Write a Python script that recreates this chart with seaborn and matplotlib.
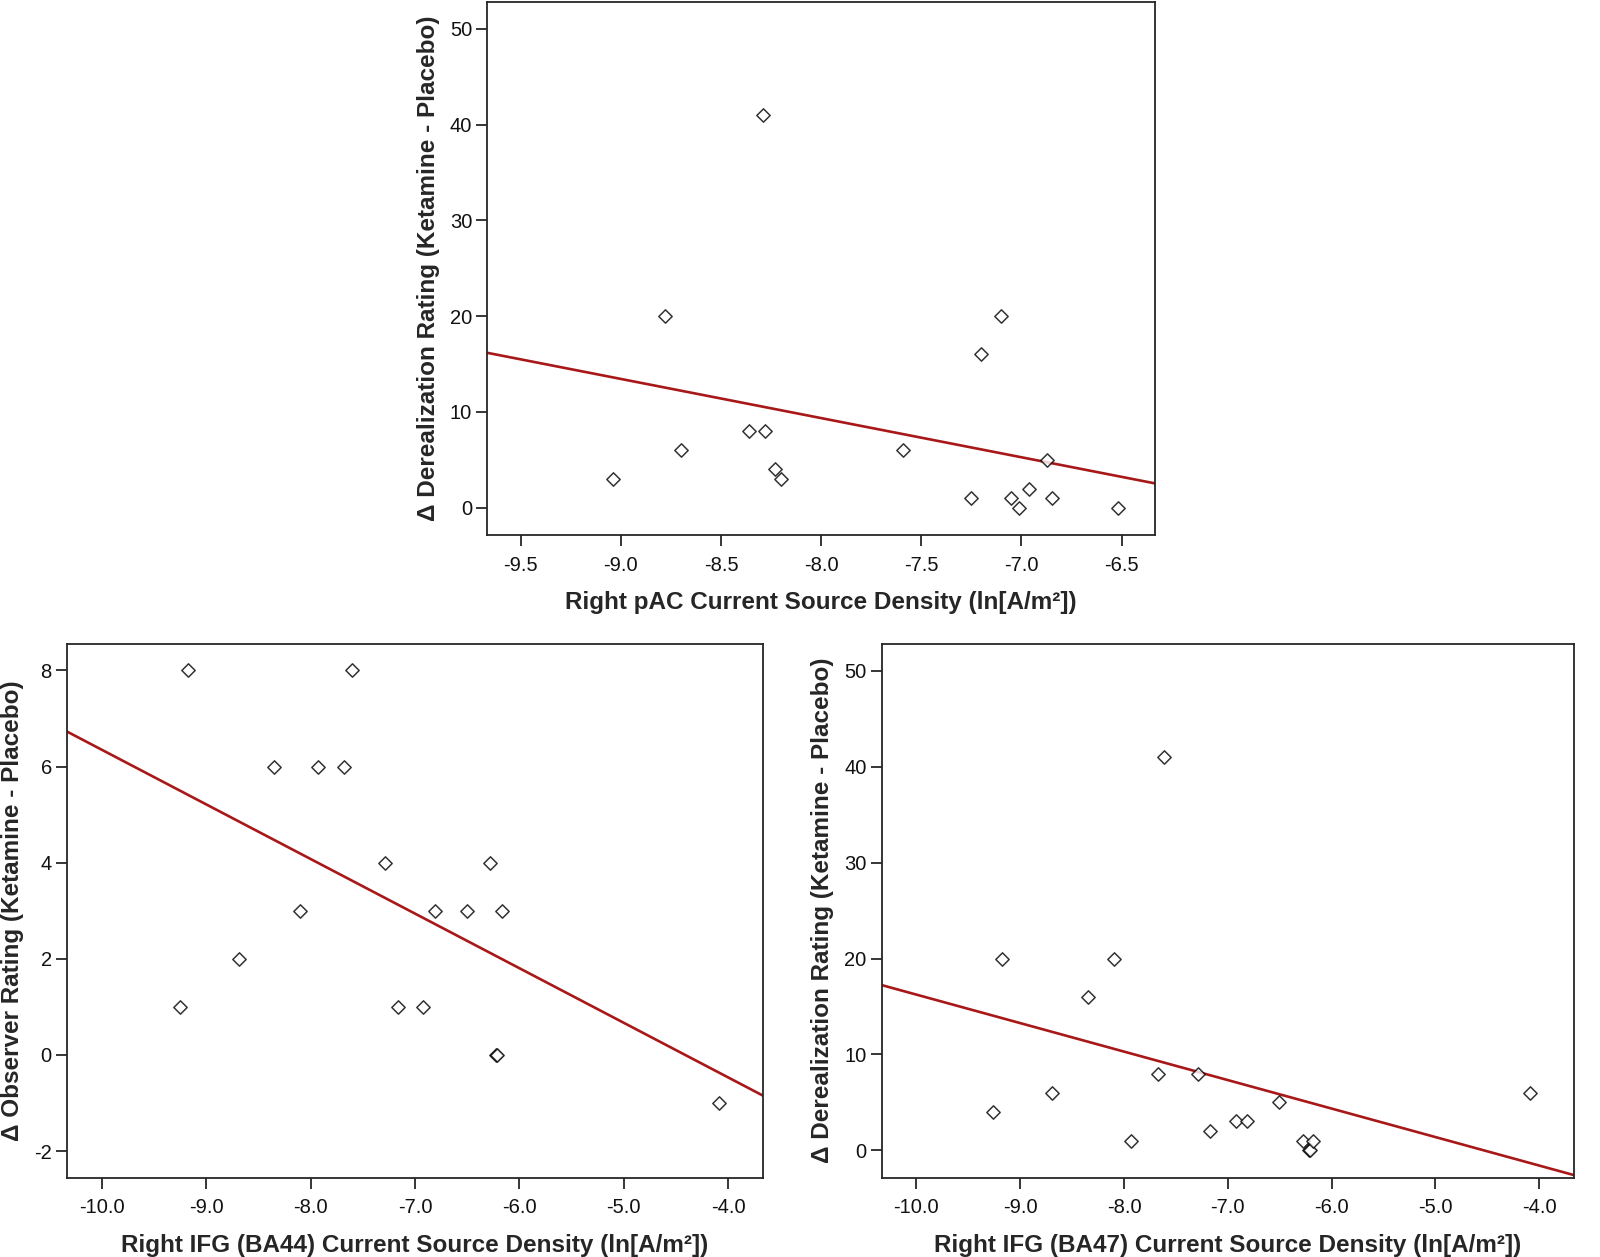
import numpy as np
import pandas as pd
import matplotlib
matplotlib.use("Agg")
import matplotlib.pyplot as plt
import seaborn as sns

# -------------------------------
# Data
# -------------------------------

# top panel: right pAC vs derealization
pac_csd = [-9.04, -8.78, -8.70, -8.36, -8.29, -8.28, -8.23, -8.20, -7.59,
           -7.25, -7.20, -7.10, -7.05, -7.01, -6.96, -6.87, -6.85, -6.52]
pac_dereal = [3, 20, 6, 8, 41, 8, 4, 3, 6, 1, 16, 20, 1, 0, 2, 5, 1, 0]

# bottom left: right IFG (BA44) vs observer rating
ba44_csd = [-9.25, -9.17, -8.69, -8.35, -8.10, -7.93, -7.68, -7.60, -7.29,
            -7.16, -6.92, -6.81, -6.50, -6.28, -6.22, -6.21, -6.17, -4.09]
ba44_observer = [1, 8, 2, 6, 3, 6, 6, 8, 4, 1, 1, 3, 3, 4, 0, 0, 3, -1]

# bottom right: right IFG (BA47) vs derealization
ba47_csd = [-9.26, -9.17, -8.69, -8.35, -8.10, -7.93, -7.67, -7.61, -7.29,
            -7.17, -6.92, -6.81, -6.51, -6.28, -6.22, -6.21, -6.18, -4.09]
ba47_dereal = [4, 20, 6, 16, 20, 1, 8, 41, 8, 2, 3, 3, 5, 1, 0, 0, 1, 6]

# -------------------------------
# Style
# -------------------------------
sns.set_style("white")
plt.rcParams["font.family"] = ["Liberation Sans", "DejaVu Sans"]

line_color = "#A81818"
spine_color = "#262626"

fig = plt.figure(figsize=(16, 12.57), dpi=100)

ax_top = fig.add_axes([0.3046, 0.5744, 0.4173, 0.4243])
ax_bl = fig.add_axes([0.0419, 0.0632, 0.4348, 0.4248])
ax_br = fig.add_axes([0.5511, 0.0632, 0.4325, 0.4248])


def draw_panel(ax, x, y, xlim, ylim, xticks, yticks, xfmt, xlabel, ylabel):
    df = pd.DataFrame({"x": x, "y": y})
    ax.set_xlim(*xlim)
    ax.set_ylim(*ylim)
    sns.regplot(data=df, x="x", y="y", ax=ax, ci=None, truncate=False,
                marker="D",
                scatter_kws={"s": 46, "facecolors": "white",
                             "edgecolors": "black", "linewidths": 1.1,
                             "zorder": 3},
                line_kws={"color": line_color, "linewidth": 1.9, "zorder": 2})
    ax.set_xlim(*xlim)
    ax.set_ylim(*ylim)
    ax.set_xticks(xticks)
    ax.set_xticklabels([xfmt.format(v) for v in xticks])
    ax.set_yticks(yticks)
    ax.set_yticklabels([str(v) for v in yticks])
    ax.tick_params(axis="both", which="major", direction="out", length=8,
                   width=1.3, color=spine_color, labelsize=14.5,
                   labelcolor="#111111",
                   bottom=True, left=True, top=False, right=False)
    ax.tick_params(axis="x", pad=7)
    ax.tick_params(axis="y", pad=3)
    for sp in ax.spines.values():
        sp.set_visible(True)
        sp.set_color(spine_color)
        sp.set_linewidth(1.3)
    ax.set_xlabel(xlabel, fontsize=17.5, fontweight="bold", labelpad=12)
    ax.set_ylabel(ylabel, fontsize=17.5, fontweight="bold", labelpad=7)


dereal_label = "\u0394 Derealization Rating (Ketamine - Placebo)"

draw_panel(ax_top, pac_csd, pac_dereal,
           (-9.667, -6.333), (-2.85, 52.85),
           [-9.5, -9.0, -8.5, -8.0, -7.5, -7.0, -6.5], [0, 10, 20, 30, 40, 50],
           "{:.1f}",
           "Right pAC Current Source Density (ln[A/m\u00b2])", dereal_label)

draw_panel(ax_bl, ba44_csd, ba44_observer,
           (-10.333, -3.667), (-2.55, 8.56),
           [-10.0, -9.0, -8.0, -7.0, -6.0, -5.0, -4.0], [-2, 0, 2, 4, 6, 8],
           "{:.1f}",
           "Right IFG (BA44) Current Source Density (ln[A/m\u00b2])",
           "\u0394 Observer Rating (Ketamine - Placebo)")

draw_panel(ax_br, ba47_csd, ba47_dereal,
           (-10.333, -3.667), (-2.85, 52.85),
           [-10.0, -9.0, -8.0, -7.0, -6.0, -5.0, -4.0], [0, 10, 20, 30, 40, 50],
           "{:.1f}",
           "Right IFG (BA47) Current Source Density (ln[A/m\u00b2])", dereal_label)

fig.savefig("out.png", dpi=100, facecolor="white")
